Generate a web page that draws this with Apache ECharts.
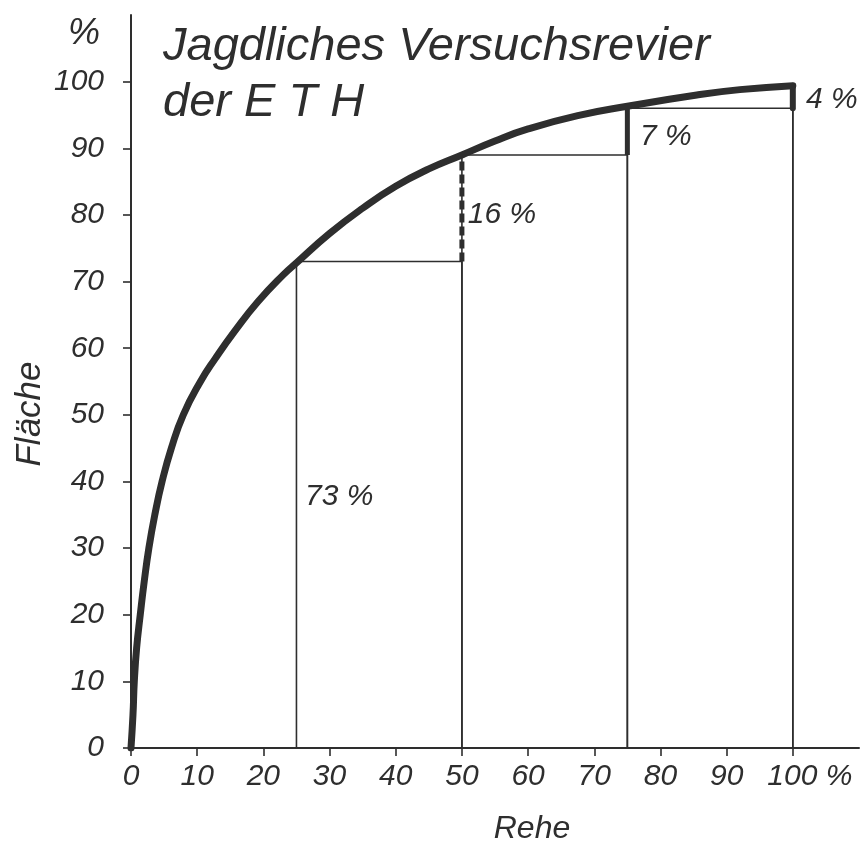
<!DOCTYPE html>
<html>
<head>
<meta charset="utf-8">
<script src="https://cdn.jsdelivr.net/npm/echarts@6/dist/echarts.min.js"></script>
<style>
  html, body { margin: 0; padding: 0; background: #fff; }
  #chart { width: 866px; height: 855px; }
</style>
</head>
<body>
<div id="chart"></div>
<script>
// Lorenz-type curve: share of deer (x, %) vs share of area (y, %)
const curveX = [0, 0.3, 0.5, 0.85, 1.4, 2.0, 2.7, 3.6, 4.7, 6.1, 7.9, 10.5, 12.7, 15.7, 19.2, 23, 25, 30, 35, 40, 45, 50, 55, 60, 67.5, 75, 85.5, 92, 100];
const curveY = [0, 5, 10, 15, 20, 25, 30, 35, 40, 45, 50, 55, 58.4, 62.6, 67, 71.0, 72.8, 77.2, 81, 84.3, 86.9, 89, 91.1, 92.9, 94.9, 96.3, 98.0, 98.8, 99.4];

// Quartile steps (x boundaries, cumulative area at each boundary)
const stepX = [25, 50, 75, 100];
const stepY = [73, 89, 96, 99.4];
const shareLabels = ['73 %', '16 %', '7 %', '4 %'];

const xTicks = [0, 10, 20, 30, 40, 50, 60, 70, 80, 90, 100];
const yTicks = [0, 10, 20, 30, 40, 50, 60, 70, 80, 90, 100];

const titleText = 'Jagdliches Versuchsrevier\nder E T H';
const xName = 'Rehe';
const yName = 'Fläche';
const unit = '%';

// label anchors (layout, data coords)
const labelPos = [[26.3, 37.7], [50.9, 80], [76.9, 91.7], [102, 97.3]];

const INK = '#2e2e2e';
const FONT = "'Liberation Sans', 'DejaVu Sans', sans-serif";

const series = [];

// thin rectangles (step boxes)
for (let i = 0; i < stepX.length - 1; i++) {
  series.push({
    type: 'line', symbol: 'none', silent: true,
    lineStyle: { color: INK, width: 1.6 },
    data: [[stepX[i], 0], [stepX[i], stepY[i]], [stepX[i + 1], stepY[i]], [stepX[i + 1], 0]],
    z: 2
  });
}
// rightmost thin vertical up to last step
series.push({
  type: 'line', symbol: 'none', silent: true,
  lineStyle: { color: INK, width: 1.6 },
  data: [[stepX[3], 0], [stepX[3], stepY[2]]], z: 2
});
// increments: dashed at 50, thick at 75 and 100
series.push({
  type: 'line', symbol: 'none', silent: true,
  lineStyle: { color: INK, width: 5, type: [9, 4] },
  data: [[stepX[1], stepY[0]], [stepX[1], stepY[1]]], z: 3
});
series.push({
  type: 'line', symbol: 'none', silent: true,
  lineStyle: { color: INK, width: 5 },
  data: [[stepX[2], stepY[1]], [stepX[2], stepY[2]]], z: 3
});
series.push({
  type: 'line', symbol: 'none', silent: true,
  lineStyle: { color: INK, width: 6, cap: 'round' },
  data: [[stepX[3], stepY[2]], [stepX[3], stepY[3]]], z: 3
});
// main curve
series.push({
  type: 'line', symbol: 'none', silent: true, smooth: 0.5,
  lineStyle: { color: INK, width: 7, cap: 'round', join: 'round' },
  data: curveX.map((x, i) => [x, curveY[i]]), z: 4
});
// share labels
series.push({
  type: 'scatter', silent: true, symbolSize: 0,
  itemStyle: { opacity: 1 },
  data: labelPos.map((p, i) => ({ value: p, name: shareLabels[i] })),
  label: {
    show: true, position: 'right', distance: 0, opacity: 1,
    formatter: p => p.name,
    color: INK, fontFamily: FONT, fontStyle: 'italic', fontSize: 30
  }, z: 5
});

const axisCommon = {
  type: 'value', min: 0, max: 110, interval: 10,
  splitLine: { show: false },
  axisLine: { show: true, lineStyle: { color: INK, width: 2 } },
  axisTick: { show: true, length: 8, lineStyle: { color: INK, width: 1.6 } },
};

const option = {
  backgroundColor: '#fff',
  animation: false,
  title: {
    text: titleText, left: 158, top: 14,
    textStyle: { color: INK, fontFamily: FONT, fontStyle: 'italic', fontWeight: 'normal', fontSize: 47, lineHeight: 56 }
  },
  grid: { left: 131, right: 7, top: 15, bottom: 107, containLabel: false },
  xAxis: Object.assign({}, axisCommon, {
    axisTick: Object.assign({}, axisCommon.axisTick, { customValues: xTicks }),
    axisLabel: {
      customValues: xTicks,
      margin: 14, color: INK, fontFamily: FONT, fontStyle: 'italic', fontSize: 30,
      formatter: v => v === 100 ? '{pad|}' + v + '{u| ' + unit + '}' : String(v),
      rich: { pad: { width: 34 }, u: { fontFamily: FONT, fontStyle: 'italic', fontSize: 30, color: INK } }
    }
  }),
  yAxis: Object.assign({}, axisCommon, {
    axisTick: Object.assign({}, axisCommon.axisTick, { customValues: yTicks }),
    axisLabel: {
      customValues: yTicks,
      margin: 27, color: INK, fontFamily: FONT, fontStyle: 'italic', fontSize: 30
    }
  }),
  graphic: [
    { type: 'text', left: 68, top: 16, style: { text: unit, fill: INK, font: "italic 36px " + FONT } },
    { type: 'text', x: 30, y: 414, rotation: Math.PI / 2,
      style: { text: yName, fill: INK, font: "italic 35px " + FONT, align: 'center', verticalAlign: 'middle' } },
    { type: 'text', x: 532, y: 829,
      style: { text: xName, fill: INK, font: "italic 32px " + FONT, align: 'center', verticalAlign: 'middle' } }
  ],
  series: series
};

const chart = echarts.init(document.getElementById('chart'), null, { renderer: 'canvas' });
chart.setOption(option);
</script>
</body>
</html>
